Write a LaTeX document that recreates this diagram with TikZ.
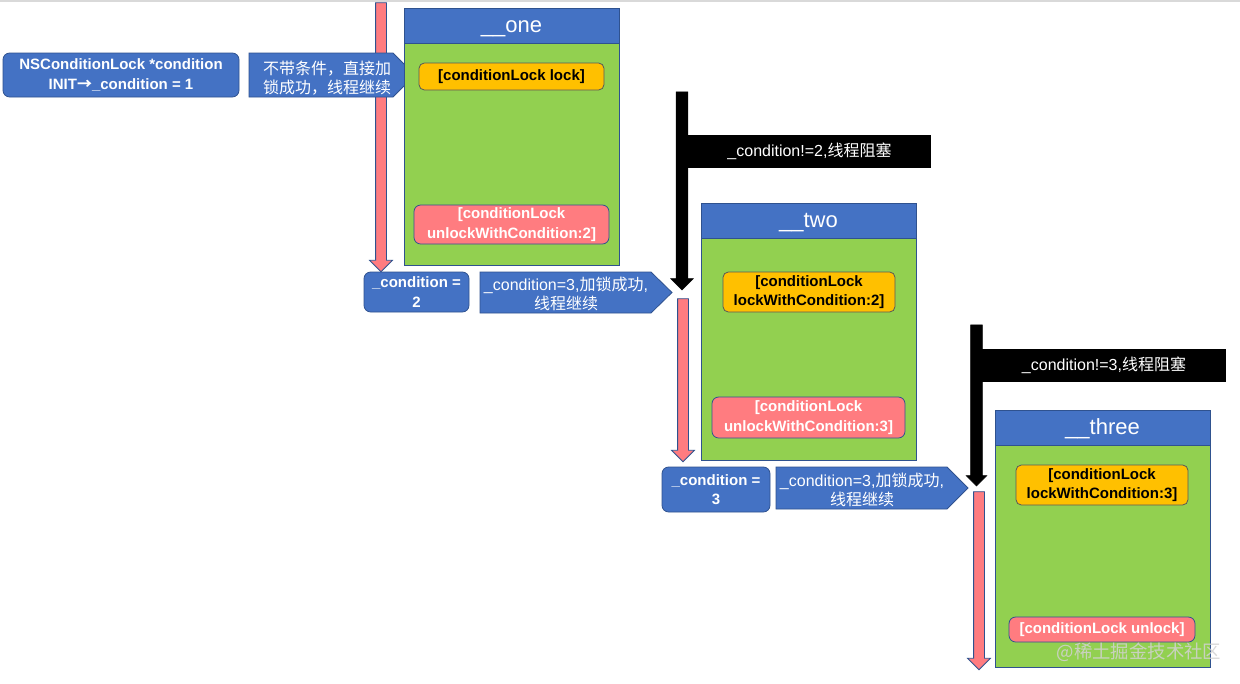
\documentclass[tikz,border=0pt]{standalone}
\usepackage{fontspec}
\setmainfont{Liberation Sans}
\newfontfamily\cjk{Noto Sans CJK SC}
\usetikzlibrary{shapes.arrows}
\definecolor{nodeblue}{RGB}{68,114,196}
\definecolor{edgeblue}{RGB}{47,82,143}
\definecolor{threadgreen}{RGB}{146,208,80}
\definecolor{lockorange}{RGB}{255,192,0}
\definecolor{unlockred}{RGB}{255,124,128}
\newcommand\pxu{0.75pt}

\begin{document}
\begin{tikzpicture}[x=0.75pt, y=-0.75pt,
  txt/.style={font=\fontsize{12}{14}\selectfont, align=center, inner sep=0pt},
  boldtxt/.style={font=\fontsize{11.25}{14.5}\selectfont\bfseries, align=center, inner sep=0pt},
  initbox/.style={boldtxt, rectangle, rounded corners=5pt, fill=nodeblue, draw=edgeblue, line width=0.6pt, text=white},
  callout/.style={fill=nodeblue, draw=edgeblue, line width=0.6pt},
  callouttext/.style={txt, text=white},
  header/.style={rectangle, fill=nodeblue, draw=edgeblue, line width=0.6pt, text=white, font=\fontsize{16.5}{18}\selectfont, minimum width=215*\pxu, minimum height=35*\pxu, text height=10.5pt, text depth=0pt},
  body/.style={rectangle, fill=threadgreen, draw=edgeblue, line width=0.6pt, minimum width=215*\pxu, minimum height=222*\pxu},
  lockbox/.style={boldtxt, rectangle, rounded corners=4pt, fill=lockorange, draw=gray!70!black, line width=0.6pt},
  unlockbox/.style={boldtxt, rectangle, rounded corners=5pt, fill=unlockred, draw=edgeblue, line width=0.6pt, text=white},
  redarrow/.style={single arrow, shape border rotate=270, fill=unlockred, draw=edgeblue, line width=0.6pt, inner sep=5*\pxu, single arrow head extend=6*\pxu, single arrow head indent=0pt},
  blackarrow/.style={single arrow, shape border rotate=270, fill=black, draw=black, inner sep=5.5*\pxu, single arrow head extend=5.5*\pxu, single arrow head indent=0pt},
  blocklabel/.style={txt, rectangle, fill=black, text=white, minimum height=33*\pxu}]

\useasboundingbox (0,0) rectangle (1240,683);
\fill[white] (0,0) rectangle (1240,683);
\draw[gray!30, line width=1pt] (0,1) -- (1240,1);

% thread one
\node (r1) at (381,134.5) [redarrow, minimum height=269*\pxu] {};
\node (init) at (121,75) [initbox, minimum width=236*\pxu, minimum height=44*\pxu] {NSConditionLock *condition\\INIT{\cjk\bfseries →}\_condition = 1};
\filldraw[callout] (249,53) -- (393,53) -- (415,75) -- (393,97) -- (249,97) -- cycle;
\node (c1) at (327,78) [callouttext] {{\cjk 不带条件，直接加}\\{\cjk 锁成功，线程继续}};
\node (one) at (511.5,25.5) [header] {\_\_one};
\node (onebody) at (511.5,154) [body] {};
\node (lock1) at (511.5,76.5) [lockbox, minimum width=185*\pxu, minimum height=27*\pxu] {[conditionLock lock]};
\node (unlock1) at (511.5,224.5) [unlockbox, minimum width=195*\pxu, minimum height=39*\pxu] {[conditionLock\\unlockWithCondition:2]};
\node (cond2) at (416.5,292) [initbox, minimum width=105*\pxu, minimum height=40*\pxu] {\_condition =\\2};
\filldraw[callout] (480,272) -- (651,272) -- (672,292.5) -- (651,313) -- (480,313) -- cycle;
\node (c2) at (566,294) [callouttext] {\_condition=3,{\cjk 加锁成功},\\{\cjk 线程继续}};

% thread two
\node (b1) at (809.5,151.5) [blocklabel, minimum width=243*\pxu] {\_condition!=2,{\cjk 线程阻塞}};
\node (k1) at (682,188) [blackarrow, minimum height=198*\pxu] {};
\node (r2) at (683,377.5) [redarrow, minimum height=163*\pxu] {};
\node (two) at (808.5,220.5) [header] {\_\_two};
\node (twobody) at (808.5,349) [body] {};
\node (lock2) at (809,292) [lockbox, minimum width=172*\pxu, minimum height=40*\pxu] {[conditionLock\\lockWithCondition:2]};
\node (unlock2) at (808.5,417.5) [unlockbox, minimum width=193*\pxu, minimum height=41*\pxu] {[conditionLock\\unlockWithCondition:3]};
\node (cond3) at (716,489.5) [initbox, minimum width=108*\pxu, minimum height=45*\pxu] {\_condition =\\3};
\filldraw[callout] (776,467) -- (947,467) -- (968,488) -- (947,509) -- (776,509) -- cycle;
\node (c3) at (862,490) [callouttext] {\_condition=3,{\cjk 加锁成功},\\{\cjk 线程继续}};

% thread three
\node (b2) at (1104,365.5) [blocklabel, minimum width=244*\pxu] {\_condition!=3,{\cjk 线程阻塞}};
\node (k2) at (976.5,402.5) [blackarrow, minimum height=161*\pxu, single arrow head extend=4.5*\pxu] {};
\node (r3) at (979,578) [redarrow, minimum height=178*\pxu] {};
\node (three) at (1102.5,427.5) [header] {\_\_three};
\node (threebody) at (1102.5,556) [body] {};
\node (lock3) at (1102,485) [lockbox, minimum width=172*\pxu, minimum height=40*\pxu] {[conditionLock\\lockWithCondition:3]};
\node (unlock3) at (1102,629.5) [unlockbox, minimum width=186*\pxu, minimum height=25*\pxu] {[conditionLock unlock]};

\node (mark) at (1139,652) [text=gray!35, opacity=0.85, font=\cjk\fontsize{13.8}{15}\selectfont] {@稀土掘金技术社区};
\end{tikzpicture}
\end{document}
